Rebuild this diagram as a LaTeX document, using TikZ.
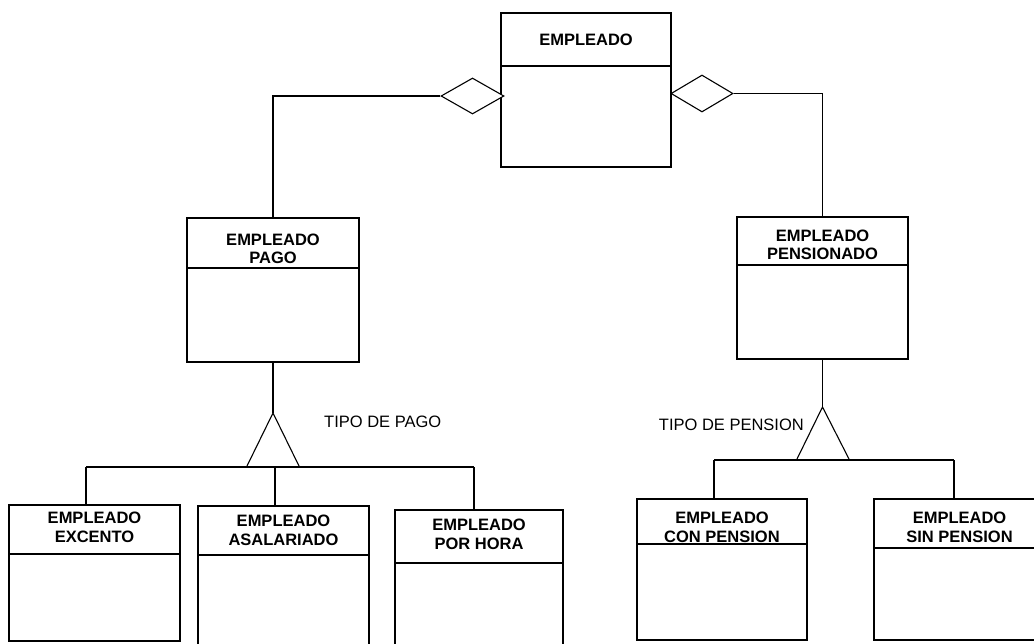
\documentclass[tikz,border=0pt]{standalone}
\usepackage{fontspec}
\setmainfont{Liberation Sans}
\usepackage{tikz}
\usetikzlibrary{shapes.geometric}
\tikzset{
  clase/.style = {draw, line width=1.1pt, inner sep=0pt},
  titulo/.style = {inner sep=0pt, align=center,
                  font=\bfseries\fontsize{16.5}{18.5}\selectfont},
  cuerpo/.style = {draw, line width=1.1pt, inner sep=0pt},
  rombo/.style = {diamond, draw, line width=1.1pt, fill=white, inner sep=0pt},
  liga/.style = {line width=1.1pt},
  etiqueta/.style = {inner sep=0pt, font=\fontsize{16.5}{18.5}\selectfont}
}

\begin{document}
\begin{tikzpicture}[x=1pt, y=-1pt]
                \useasboundingbox (0,0) rectangle (1034,643);
                \clip (0,0) rectangle (1034,643);
                % clases: nombre / centro x / ancho / arriba / division / abajo / desplazamiento / titulo
                \foreach \nom/\cx/\an/\ar/\me/\ab/\dy/\txt in {
                    emp/586/170/13/66/167/0/{EMPLEADO},
                    pago/273/172/218/268/362/6/{EMPLEADO\\PAGO},
                    pens/822.5/171/217/265/359/4/{EMPLEADO\\PENSIONADO},
                    exc/94.5/171/505/554/641/-2/{EMPLEADO\\EXCENTO},
                    asal/283.5/171/506/555/650/0/{EMPLEADO\\ASALARIADO},
                    hora/479/168/510/563/650/-2/{EMPLEADO\\POR HORA},
                    con/722/170/499/544/640/6/{EMPLEADO\\CON PENSION},
                    sin/959.5/171/499/548/640/4/{EMPLEADO\\SIN PENSION}}{
                  \node[clase, minimum width=\an, minimum height={\me-\ar}] at (\cx,{(\ar+\me)/2}) (\nom) {};
                  \node[titulo] at (\cx,{(\ar+\me)/2+\dy}) (\nom T) {\txt};
                  \node[cuerpo, minimum width=\an, minimum height={\ab-\me}] at (\cx,{(\me+\ab)/2}) (\nom B) {};
                }
                % agregaciones
                \node[rombo, minimum width=63, minimum height=36] at (472.5,96) (romboI) {};
                \node[rombo, minimum width=62, minimum height=37] at (702,93.5) (romboD) {};
                \draw[liga] (romboI.west) -| (pago.north);
                \draw[liga] (romboD.east) -| (pens.north);
                % generalizacion tipo de pago
                \coordinate (tpA) at (273,413);
                \coordinate (tpI) at (246.5,467);
                \coordinate (tpD) at (299.5,467);
                \draw[liga] (tpA) -- (tpI) -- (tpD) -- cycle;
                \draw[liga] (pagoB.south) -- (tpA);
                \coordinate (bpI) at (86,467);
                \coordinate (bpM) at (275,467);
                \coordinate (bpD) at (474,467);
                \draw[liga] (bpI) -- (bpD);
                \draw[liga] (bpI) -- (bpI |- exc.north);
                \draw[liga] (bpM) -- (bpM |- asal.north);
                \draw[liga] (bpD) -- (bpD |- hora.north);
                \node[etiqueta, anchor=west] at (324,422) (lblPago) {TIPO DE PAGO};
                % generalizacion tipo de pension
                \coordinate (tnA) at (822.5,407);
                \coordinate (tnI) at (796.5,460);
                \coordinate (tnD) at (849.5,460);
                \draw[liga] (tnA) -- (tnI) -- (tnD) -- cycle;
                \draw[liga] (pensB.south) -- (tnA);
                \coordinate (bnI) at (714,460);
                \coordinate (bnD) at (954,460);
                \draw[liga] (bnI) -- (bnD);
                \draw[liga] (bnI) -- (bnI |- con.north);
                \draw[liga] (bnD) -- (bnD |- sin.north);
                \node[etiqueta, anchor=east] at (804,425) (lblPens) {TIPO DE PENSION};
\end{tikzpicture}
\end{document}
